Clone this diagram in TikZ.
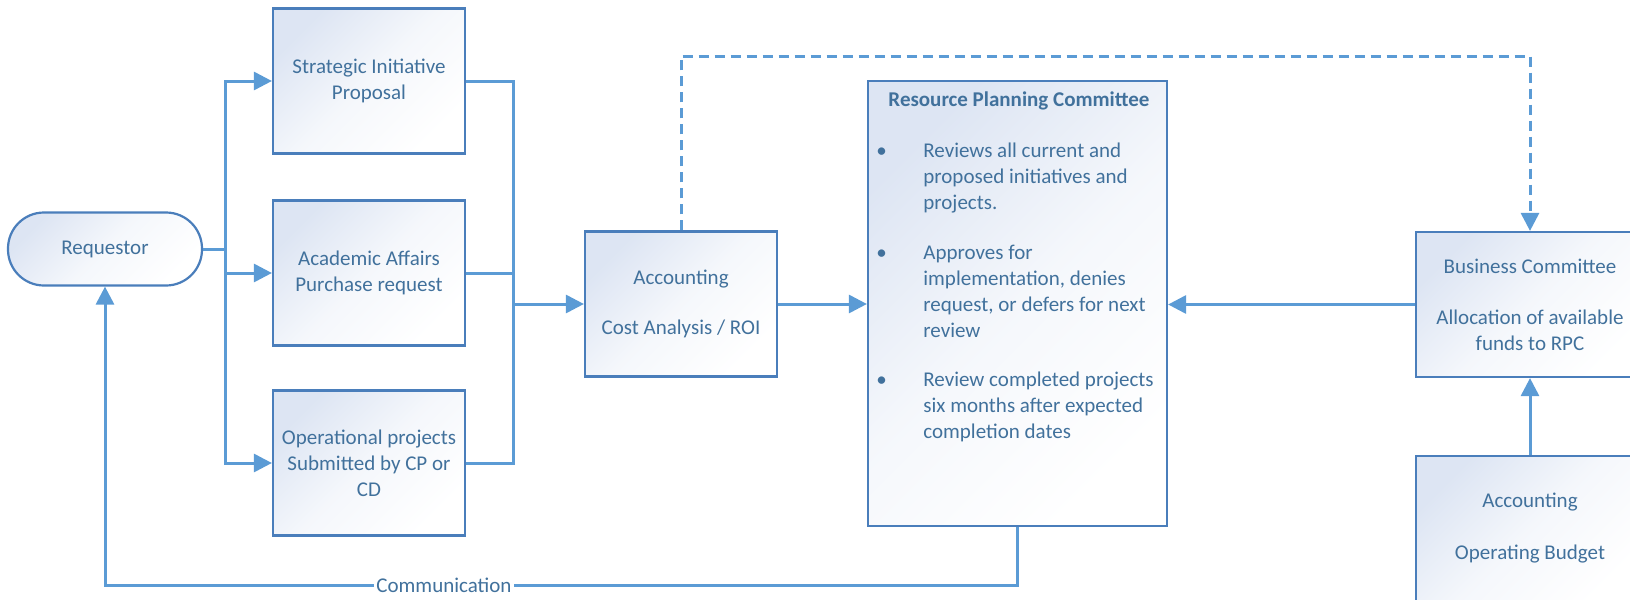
\documentclass[tikz,border=0pt]{standalone}
\usepackage{fontspec}
\setmainfont{Carlito}
\usetikzlibrary{arrows.meta}
\definecolor{boxline}{HTML}{4A7EBB}
\definecolor{flowline}{HTML}{5B9BD5}
\definecolor{boxtext}{HTML}{41719C}
\definecolor{boxshade}{HTML}{DDE5F3}

\begin{document}
\begin{tikzpicture}[x=0.5pt, y=-0.5pt,
    every node/.style={font=\fontsize{10.5}{13}\selectfont, text=boxtext},
    proc/.style={draw=boxline, line width=1.1pt, top color=boxshade, bottom color=white,
        middle color=boxshade!30!white, shading angle=45, align=center, inner sep=0pt,
        minimum width=96pt, minimum height=72.5pt},
    term/.style={proc, rounded corners=18pt, minimum width=97pt, minimum height=36.5pt},
    flow/.style={draw=flowline, line width=1.5pt},
    arr/.style={flow, -{Triangle[length=9pt,width=9pt]}},
    dashflow/.style={arr, dash pattern=on 5pt off 3pt}]
    \useasboundingbox (0,0) rectangle (1630,600);
    \clip (0,0) rectangle (1630,600);

    % Requestor and requests
    \node[term] (req) at (105,249) {Requestor};
    \node[proc] (strat) at (369,81) {Strategic Initiative\\Proposal};
    \node[proc] (acad) at (369,273) {Academic Affairs\\Purchase request};
    \node[proc] (oper) at (369,463) {Operational projects\\Submitted by CP or\\CD};

    % Accounting
    \node[proc] (cost) at (681,304) {Accounting\\[12pt]Cost Analysis / ROI};

    % Resource Planning Committee
    \node[proc, minimum width=149.5pt, minimum height=222.5pt] (rpc) at (1017.5,303.5) {};
    \node[font=\bfseries\fontsize{10.5}{13}\selectfont] (rpchead) at (1019,101) {Resource Planning Committee};
    \node[align=left, anchor=north west, inner sep=0pt] (rpclist) at (876,143)
        {\makebox[23.5pt][l]{\textbullet}Reviews all current and\\
         \hspace*{23.5pt}proposed initiatives and\\
         \hspace*{23.5pt}projects.\\[12pt]
         \makebox[23.5pt][l]{\textbullet}Approves for\\
         \hspace*{23.5pt}implementation, denies\\
         \hspace*{23.5pt}request, or defers for next\\
         \hspace*{23.5pt}review\\[11.5pt]
         \makebox[23.5pt][l]{\textbullet}Review completed projects\\
         \hspace*{23.5pt}six months after expected\\
         \hspace*{23.5pt}completion dates};

    % Business Committee and budget
    \node[proc, minimum width=114pt] (bus) at (1530,304.5) {Business Committee\\[12.5pt]Allocation of available\\funds to RPC};
    \node[proc, minimum width=114pt] (budget) at (1530,528.5) {Accounting\\[13pt]Operating Budget};

    % Left fork
    \coordinate (ljoin) at (225,249);
    \draw[flow] (req.east) -- (ljoin);
    \draw[arr] (ljoin) |- (strat.west);
    \draw[arr] (ljoin) |- (acad.west);
    \draw[arr] (ljoin) |- (oper.west);

    % Right join
    \coordinate (rjoin) at (513,304);
    \draw[flow] (strat.east) -| (rjoin);
    \draw[flow] (acad.east) -| (rjoin);
    \draw[flow] (oper.east) -| (rjoin);
    \draw[arr] (rjoin) -- (cost.west);

    % To the committee
    \draw[arr] (cost.east) -- (cost.east -| rpc.west);
    \draw[arr] (bus.west) -- (bus.west -| rpc.east);
    \draw[arr] (budget.north) -- (bus.south);

    % Dashed link
    \coordinate (dashtop) at (681,56);
    \draw[dashflow] (cost.north) -- (dashtop) -| (bus.north);

    % Communication
    \node[fill=white, inner sep=1pt] (commtxt) at (444,585) {Communication};
    \draw[flow] (rpc.south) |- (commtxt.east);
    \draw[arr] (commtxt.west) -| (req.south);
\end{tikzpicture}
\end{document}
